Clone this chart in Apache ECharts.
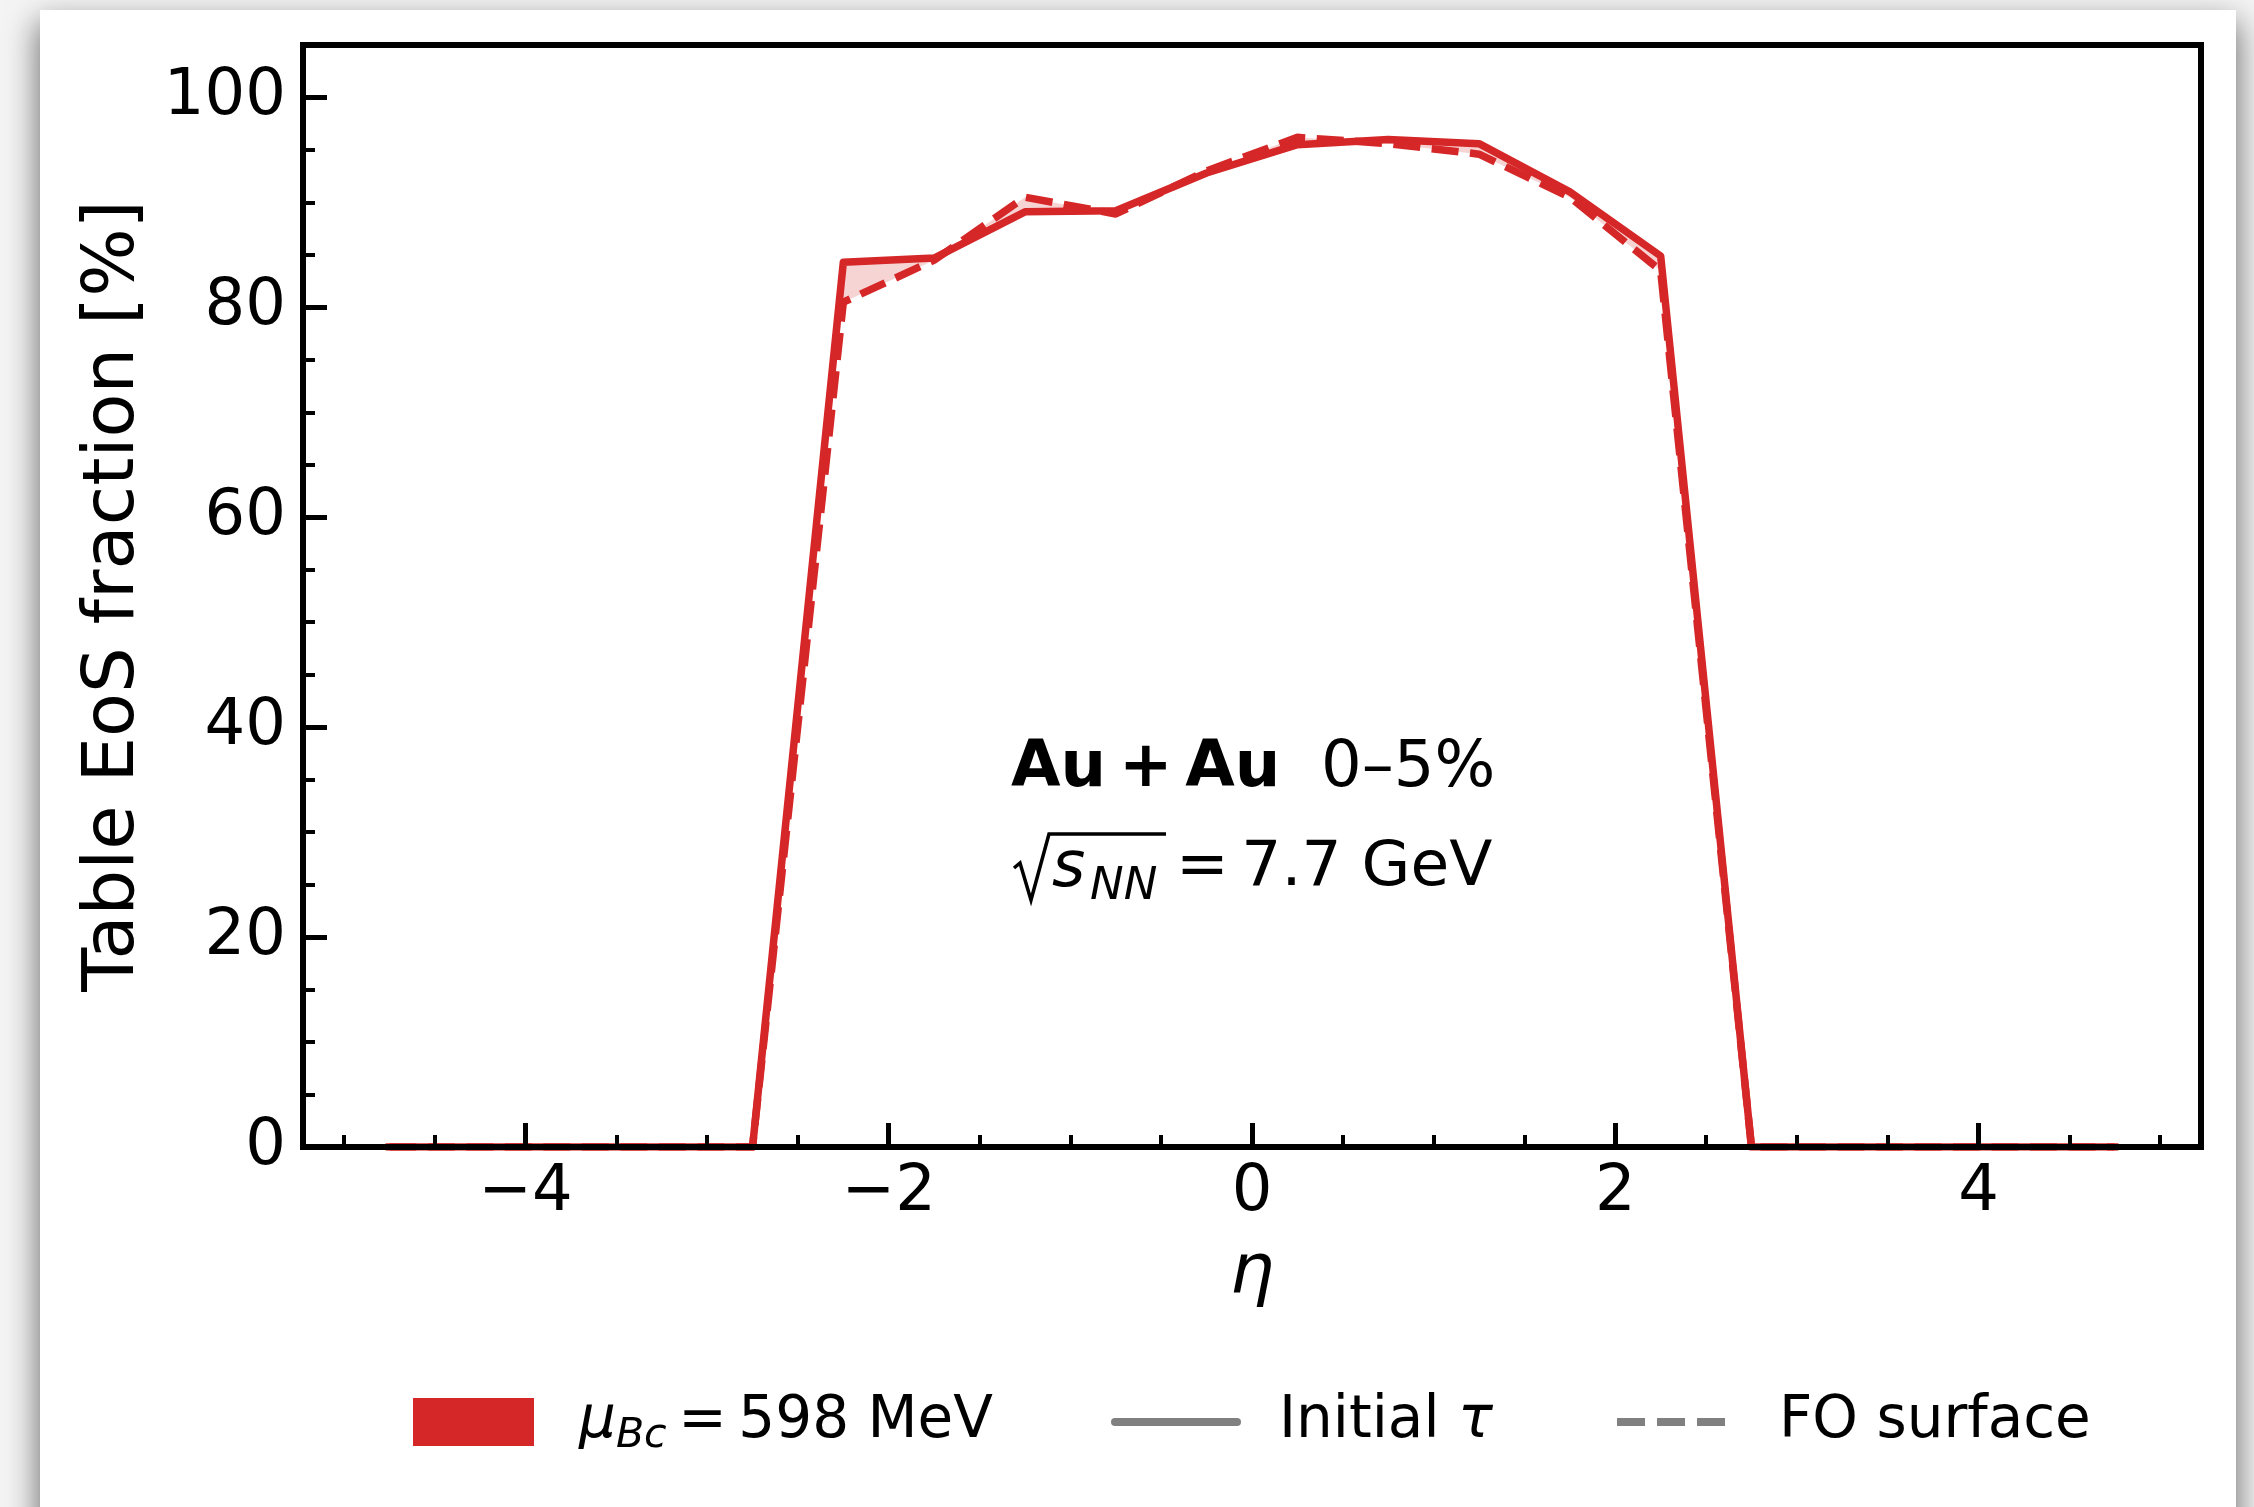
<!DOCTYPE html>
<html>
<head>
<meta charset="utf-8">
<script src="https://cdn.jsdelivr.net/npm/echarts@6/dist/echarts.min.js"></script>
<style>
  html, body { margin: 0; padding: 0; width: 2254px; height: 1507px; overflow: hidden; background: #f4f4f4; }
  #sheet { position: absolute; left: 40px; top: 10px; width: 2196px; height: 1560px; background: #fff;
           box-shadow: 0 14px 30px 2px rgba(0, 0, 0, 0.55); }
  #chart { position: absolute; left: 0; top: 0; width: 2254px; height: 1507px; }
</style>
</head>
<body>
<div id="sheet"></div>
<div id="chart"></div>
<script>
// Pseudorapidity bins (cell centres)
const ETA = [-4.75, -4.25, -3.75, -3.25, -2.75, -2.25, -1.75, -1.25, -0.75, -0.25,
              0.25,  0.75,  1.25,  1.75,  2.25,  2.75,  3.25,  3.75,  4.25,  4.75];
// Table EoS fraction [%] on the initial-tau hypersurface
const INITIAL_TAU = [0, 0, 0, 0, 0, 84.3, 84.7, 89.1, 89.2, 92.8,
                     95.5, 96.0, 95.6, 91.0, 84.9, 0, 0, 0, 0, 0];
// Table EoS fraction [%] on the freeze-out surface
const FO_SURFACE = [0, 0, 0, 0, 0, 80.5, 84.5, 90.5, 88.9, 93.0,
                    96.2, 95.6, 94.6, 90.5, 83.5, 0, 0, 0, 0, 0];

// Tick positions
const X_MAJOR = [-4, -2, 0, 2, 4];
const X_MINOR = [-5, -4.5, -3.5, -3, -2.5, -1.5, -1, -0.5, 0.5, 1, 1.5, 2.5, 3, 3.5, 4.5, 5];
const Y_MAJOR = [0, 20, 40, 60, 80, 100];
const Y_MINOR = [5, 10, 15, 25, 30, 35, 45, 50, 55, 65, 70, 75, 85, 90, 95];

const RED = '#d62728';
const GREY = '#808080';
const FONT = 'DejaVu Sans';
const X_RANGE = [-5.225, 5.225];
const Y_RANGE = [0, 105];

const fmtTick = v => (v < 0 ? '\u2212' + Math.abs(v) : String(v));

const chart = echarts.init(document.getElementById('chart'), null, { renderer: 'canvas' });

const majorTick = (values) => ({
  show: true, inside: true, length: 24, customValues: values,
  lineStyle: { color: '#000', width: 5 }
});
const minorTick = (values) => ({
  show: true, inside: true, length: 12, customValues: values,
  lineStyle: { color: '#000', width: 4 }
});

// legend text styles; `gap` is the space between the key and its label
const legendText = (gap) => ({
  fontFamily: FONT, fontSize: 58, color: '#000',
  rich: {
    g: { fontFamily: FONT, fontSize: 58, lineHeight: 70, width: gap, color: '#000' },
    t: { fontFamily: FONT, fontSize: 58, lineHeight: 70, color: '#000' },
    i: { fontFamily: FONT, fontSize: 58, lineHeight: 70, fontStyle: 'italic', color: '#000' },
    s: { fontFamily: FONT, fontSize: 41, lineHeight: 41, fontStyle: 'italic', verticalAlign: 'bottom', color: '#000' }
  }
});

const option = {
  animation: false,
  backgroundColor: 'transparent',
  grid: {
    left: 303, top: 45, width: 1898, height: 1102,
    show: true, borderColor: '#000', borderWidth: 6, backgroundColor: 'transparent'
  },
  xAxis: [
    {
      type: 'value', min: X_RANGE[0], max: X_RANGE[1], position: 'bottom', z: 3,
      axisLine: { show: true, onZero: false, lineStyle: { color: '#000', width: 6 } },
      axisTick: majorTick(X_MAJOR),
      axisLabel: { customValues: X_MAJOR, formatter: fmtTick, fontFamily: FONT, fontSize: 64, color: '#000', margin: 14 },
      splitLine: { show: false },
      name: '\u03b7', nameLocation: 'middle', nameGap: 93,
      nameTextStyle: { fontFamily: FONT, fontSize: 70, fontStyle: 'italic', color: '#000' }
    },
    {
      type: 'value', min: X_RANGE[0], max: X_RANGE[1], position: 'bottom', z: 3,
      axisLine: { show: false, onZero: false },
      axisTick: minorTick(X_MINOR),
      axisLabel: { show: false },
      splitLine: { show: false }
    }
  ],
  yAxis: [
    {
      type: 'value', min: Y_RANGE[0], max: Y_RANGE[1], position: 'left', z: 3,
      axisLine: { show: true, onZero: false, lineStyle: { color: '#000', width: 6 } },
      axisTick: majorTick(Y_MAJOR),
      axisLabel: { customValues: Y_MAJOR, formatter: fmtTick, fontFamily: FONT, fontSize: 64, color: '#000', margin: 17, padding: [5, 0, 0, 0] },
      splitLine: { show: false },
      name: 'Table EoS fraction [%]', nameLocation: 'middle', nameGap: 153,
      nameTextStyle: { fontFamily: FONT, fontSize: 72, color: '#000' }
    },
    {
      type: 'value', min: Y_RANGE[0], max: Y_RANGE[1], position: 'left', z: 3,
      axisLine: { show: false, onZero: false },
      axisTick: minorTick(Y_MINOR),
      axisLabel: { show: false },
      splitLine: { show: false }
    }
  ],
  legend: [
    {
      data: [{ name: '\u03bcBc = 598 MeV', icon: 'rect', itemStyle: { color: RED, borderWidth: 0, opacity: 1 } }],
      left: 413, top: 1393, padding: 0, itemWidth: 121, itemHeight: 48, textGap: 0,
      selectedMode: false, formatter: () => '{g|}{i|\u03bc}{s|Bc}{t|\u2009=\u2009598 MeV}', textStyle: legendText(40)
    },
    {
      data: [{ name: 'Initial \u03c4', itemStyle: { opacity: 0 },
               lineStyle: { color: GREY, width: 8, type: 'solid', cap: 'round', opacity: 1 } }],
      left: 1111, top: 1393, padding: 0, itemWidth: 122, itemHeight: 48, textGap: 0,
      selectedMode: false, formatter: () => '{g|}{t|Initial }{i|\u03c4}', textStyle: legendText(37)
    },
    {
      data: [{ name: 'FO surface', itemStyle: { opacity: 0 },
               lineStyle: { color: GREY, width: 8, type: [28, 12], cap: 'butt', opacity: 1 } }],
      left: 1613, top: 1393, padding: 0, itemWidth: 117, itemHeight: 48, textGap: 0,
      selectedMode: false, formatter: () => '{g|}{t|FO surface}', textStyle: legendText(40)
    }
  ],
  series: [
    {
      // shaded band between the two hypersurface curves
      name: '\u03bcBc = 598 MeV',
      type: 'custom',
      xAxisIndex: 0, yAxisIndex: 0,
      coordinateSystem: 'cartesian2d',
      clip: true, silent: true, z: 1,
      itemStyle: { color: 'rgba(214,39,40,0.2)' },
      data: [[0, 0]],
      renderItem: (params, api) => {
        const upper = ETA.map((x, i) => api.coord([x, INITIAL_TAU[i]]));
        const lower = ETA.map((x, i) => api.coord([x, FO_SURFACE[i]])).reverse();
        return {
          type: 'polygon',
          shape: { points: upper.concat(lower) },
          style: { fill: 'rgba(214,39,40,0.2)', stroke: null }
        };
      }
    },
    {
      name: 'Initial \u03c4',
      type: 'line', xAxisIndex: 0, yAxisIndex: 0,
      data: ETA.map((x, i) => [x, INITIAL_TAU[i]]),
      symbol: 'none', z: 2, silent: true,
      itemStyle: { color: RED },
      lineStyle: { color: RED, width: 7.5, join: 'round', cap: 'square' }
    },
    {
      name: 'FO surface',
      type: 'line', xAxisIndex: 0, yAxisIndex: 0,
      data: ETA.map((x, i) => [x, FO_SURFACE[i]]),
      symbol: 'none', z: 2, silent: true,
      itemStyle: { color: RED },
      lineStyle: { color: RED, width: 7.5, join: 'round', type: [27, 11.5] }
    }
  ],
  graphic: [
    {
      type: 'text', x: 1011, y: 769, z: 10,
      style: {
        text: '{b|Au\u2009+\u2009Au}{r|  0\u20135%}',
        fill: '#000', fontFamily: FONT, fontSize: 64, align: 'left', verticalAlign: 'middle',
        rich: {
          b: { fontFamily: FONT, fontSize: 64, fontWeight: 'bold', fill: '#000' },
          r: { fontFamily: FONT, fontSize: 64, fill: '#000' }
        }
      }
    },
    {
      // radical sign with its vinculum
      type: 'polyline', z: 10,
      shape: { points: [[1014, 868], [1020, 863], [1031, 900], [1049, 834], [1166, 834]] },
      style: { stroke: '#000', lineWidth: 3.5, fill: null, lineJoin: 'miter' }
    },
    {
      type: 'text', x: 1052, y: 869, z: 10,
      style: { text: 's', fill: '#000', fontFamily: FONT, fontSize: 64, fontStyle: 'italic', align: 'left', verticalAlign: 'middle' }
    },
    {
      type: 'text', x: 1090, y: 887, z: 10,
      style: { text: 'NN', fill: '#000', fontFamily: FONT, fontSize: 45, fontStyle: 'italic', align: 'left', verticalAlign: 'middle' }
    },
    {
      type: 'text', x: 1176, y: 869, z: 10,
      style: { text: '=\u20097.7 GeV', fill: '#000', fontFamily: FONT, fontSize: 63, align: 'left', verticalAlign: 'middle' }
    }
  ]
};

chart.setOption(option);
</script>
</body>
</html>
